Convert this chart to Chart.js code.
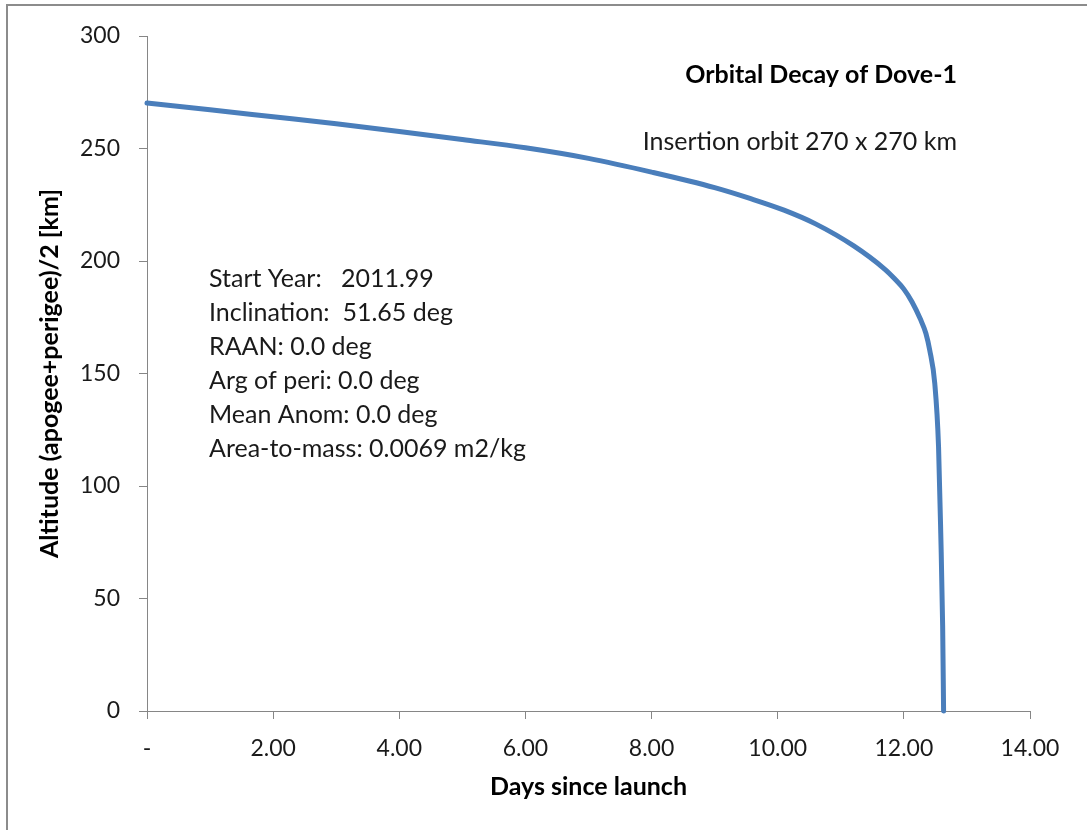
<!DOCTYPE html>
<html>
<head>
<meta charset="utf-8">
<script src="https://cdn.jsdelivr.net/npm/chart.js@4/dist/chart.umd.min.js"></script>
<style>
  html, body { margin: 0; padding: 0; background: #fff; }
  #wrap { position: relative; width: 1087px; height: 830px; }
</style>
</head>
<body>
<div id="wrap"><canvas id="c" width="1087" height="830"></canvas></div>
<script>
// ---- data ----
const days = [0, 1, 2, 3, 4, 5, 6, 7, 8, 9, 9.56, 10.1, 10.6, 11.2, 11.7, 11.85, 12.0, 12.13, 12.26, 12.35, 12.41, 12.49, 12.55, 12.585, 12.615, 12.63];
const altitude = [270.2, 267.2, 264.1, 261.0, 257.6, 254.0, 250.3, 245.6, 239.5, 232.6, 227.8, 222.6, 216.5, 206.8, 196.3, 192.2, 187.5, 181.8, 174.3, 167.8, 160.4, 145.6, 117.5, 79.0, 38.0, 0];
const chartTitle = 'Orbital Decay of Dove-1';
const subTitle = 'Insertion orbit 270 x 270 km';
const paramLines = [
  'Start Year:   2011.99',
  'Inclination:  51.65 deg',
  'RAAN: 0.0 deg',
  'Arg of peri: 0.0 deg',
  'Mean Anom: 0.0 deg',
  'Area-to-mass: 0.0069 m2/kg'
];
const xTitle = 'Days since launch';
const yTitle = 'Altitude (apogee+perigee)/2 [km]';

const FONT = 'Lato, "Open Sans", sans-serif';
const AXIS_COLOR = '#868686';

const points = days.map((d, i) => ({ x: d, y: altitude[i] }));

const annotations = {
  id: 'annotations',
  beforeDraw(chart) {
    const ctx = chart.ctx;
    ctx.save();
    ctx.strokeStyle = '#8c8c8c';
    ctx.lineWidth = 2;
    ctx.strokeRect(7, 5, 2000, 2000);
    ctx.restore();
  },
  afterDraw(chart) {
    const ctx = chart.ctx;
    ctx.save();
    ctx.fillStyle = '#000';
    ctx.textBaseline = 'middle';
    ctx.textAlign = 'right';
    ctx.font = 'bold 25px ' + FONT;
    ctx.fillText(chartTitle, 957, 75);
    ctx.font = '25px ' + FONT;
    ctx.fillStyle = '#1a1a1a';
    ctx.fillText(subTitle, 957, 142);
    ctx.textAlign = 'left';
    paramLines.forEach((t, i) => {
      ctx.fillText(t, 209, 279 + i * 34);
    });
    ctx.restore();
  }
};

new Chart(document.getElementById('c'), {
  type: 'scatter',
  data: {
    datasets: [{
      data: points,
      showLine: true,
      borderColor: '#4a7ebb',
      borderWidth: 5,
      pointRadius: 0,
      cubicInterpolationMode: 'monotone',
      borderCapStyle: 'round',
      borderJoinStyle: 'round',
      clip: false
    }]
  },
  options: {
    responsive: false,
    animation: false,
    events: [],
    layout: { padding: { top: 36, right: 57, bottom: 0, left: 0 } },
    plugins: { legend: { display: false }, tooltip: { enabled: false } },
    scales: {
      x: {
        type: 'linear',
        min: 0, max: 14,
        ticks: {
          stepSize: 2,
          color: '#1a1a1a',
          font: { family: FONT, size: 23 },
          padding: 16,
          maxRotation: 0,
          callback: v => v === 0 ? '-' : v.toFixed(2)
        },
        grid: { display: true, drawOnChartArea: false, drawTicks: true, tickLength: 8, color: AXIS_COLOR },
        border: { display: true, color: AXIS_COLOR, width: 1 },
        title: { display: true, text: xTitle, color: '#000', font: { family: FONT, size: 25, weight: 'bold' }, padding: { top: 0, bottom: 28 } },
        afterFit: s => { s.height = 830 - 711; }
      },
      y: {
        type: 'linear',
        min: 0, max: 300,
        ticks: {
          stepSize: 50,
          color: '#1a1a1a',
          font: { family: FONT, size: 23 },
          padding: 19
        },
        grid: { display: true, drawOnChartArea: false, drawTicks: true, tickLength: 8, color: AXIS_COLOR },
        border: { display: true, color: AXIS_COLOR, width: 1 },
        title: { display: true, text: yTitle, color: '#000', font: { family: FONT, size: 25, weight: 'bold' }, padding: { top: 35, bottom: 0 } },
        afterFit: s => { s.width = 147; }
      }
    }
  },
  plugins: [annotations]
});
</script>
</body>
</html>
